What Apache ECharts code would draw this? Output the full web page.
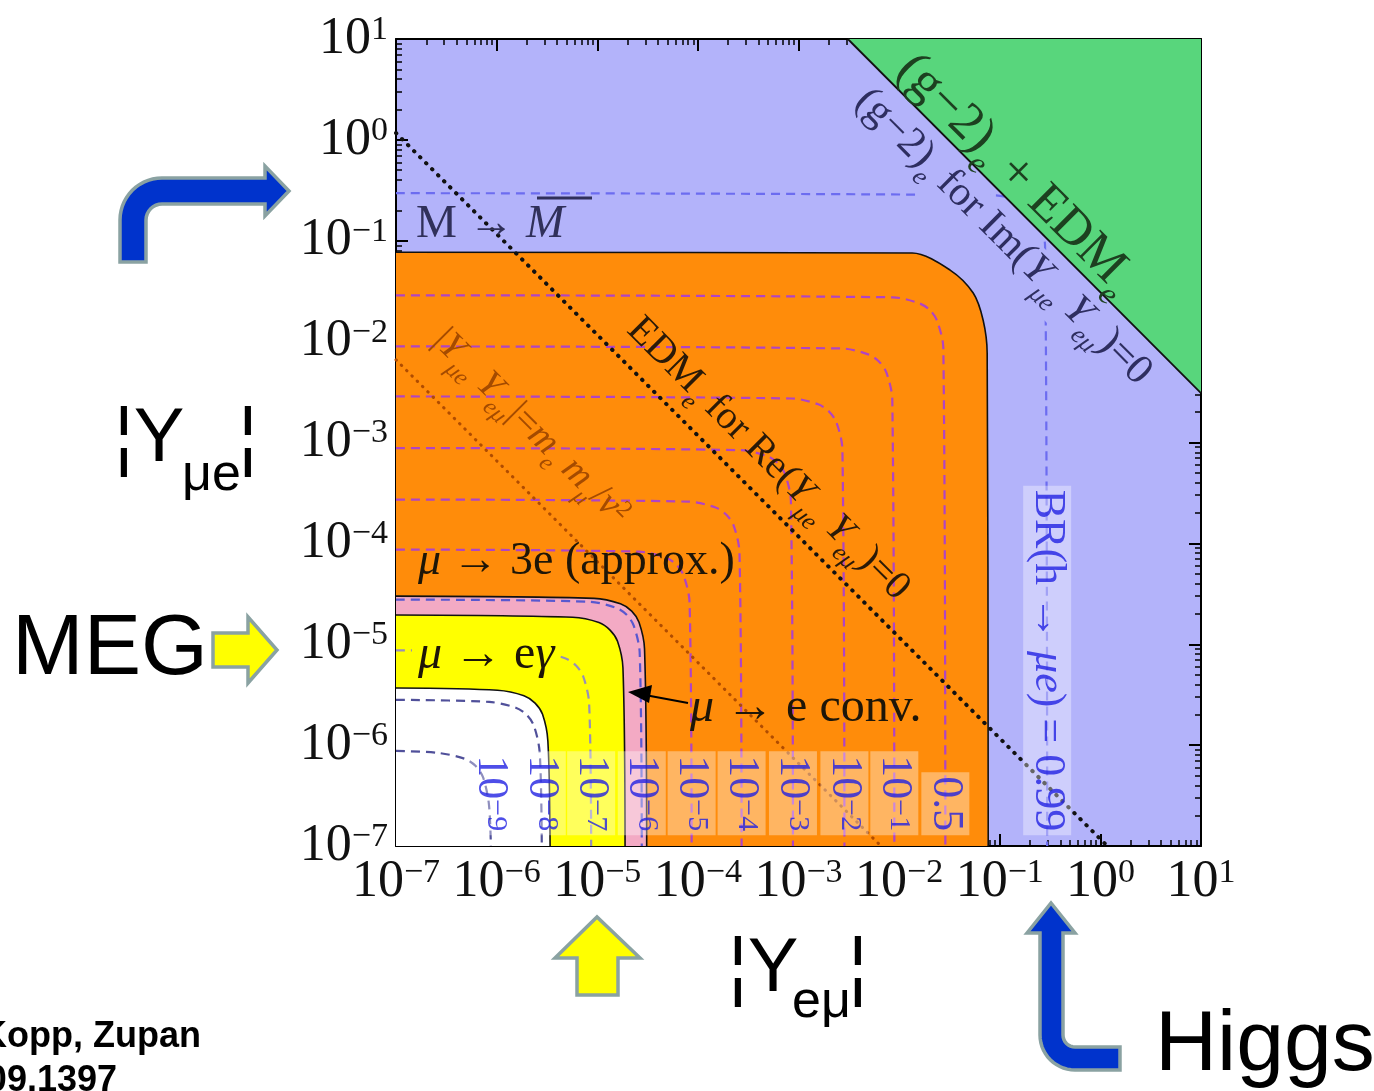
<!DOCTYPE html>
<html>
<head>
<meta charset="utf-8">
<title>Constraints on |Y_eμ|, |Y_μe|</title>
<script src="https://cdn.jsdelivr.net/npm/echarts@6.0.0/dist/echarts.min.js"></script>
<style>
html,body{margin:0;padding:0;background:#ffffff;}
#chart{width:1374px;height:1091px;}
</style>
</head>
<body>
<div id="chart"></div>
<script>
// ===== values (x = |Y_eμ|, y = |Y_μe|) =====
const tickExponents = ['−7','−6','−5','−4','−3','−2','−1','0','1'];

// excluded-region boundaries
const orangeEdge = [[1e-7,0.0768],[0.0135,0.0755],[0.0321,0.0512],[0.0545,0.0303],[0.0684,0.0163],[0.075,0.0077],[0.0768,1e-7]];
const pinkEdge   = [[1e-7,3.0e-5],[9.3e-6,2.85e-5],[1.7e-5,2.52e-5],[2.2e-5,2.13e-5],[2.6e-5,1.65e-5],[2.95e-5,9e-6],[3.1e-5,1e-7]];
const yellowEdge = [[1e-7,1.95e-5],[5.7e-6,1.85e-5],[1.04e-5,1.64e-5],[1.34e-5,1.38e-5],[1.59e-5,1.07e-5],[1.8e-5,5.85e-6],[1.89e-5,1e-7]];
const whiteEdge  = [[1e-7,3.68e-6],[1.02e-6,3.5e-6],[1.87e-6,3.09e-6],[2.41e-6,2.61e-6],[2.86e-6,2.02e-6],[3.23e-6,1.1e-6],[3.4e-6,1e-7]];
const greenEdge  = [[0.00309,10],[10,0.00309]];

// diagonal lines
const edmReLine = [[1e-7,1.17],[1.17,1e-7]];
const massLine  = [[1e-7,0.0066],[0.0066,1e-7]];

// BR(h -> μe) contours
const br1e9 = [[1e-7,8.77e-7],[2.63e-7,8.37e-7],[4.82e-7,7.32e-7],[6.2e-7,6.2e-7],[7.32e-7,4.82e-7],[8.37e-7,2.63e-7],[8.77e-7,1e-7]];
const br1e8 = [[1e-7,2.81e-6],[8.43e-7,2.68e-6],[1.55e-6,2.35e-6],[1.99e-6,1.99e-6],[2.35e-6,1.55e-6],[2.68e-6,8.43e-7],[2.81e-6,1e-7]];
const br1e7 = [[1e-7,8.7e-6],[2.61e-6,8.3e-6],[4.79e-6,7.26e-6],[6.15e-6,6.15e-6],[7.26e-6,4.79e-6],[8.3e-6,2.61e-6],[8.7e-6,1e-7]];
const br1e6 = [[1e-7,2.77e-5],[8.31e-6,2.64e-5],[1.52e-5,2.31e-5],[1.96e-5,1.96e-5],[2.31e-5,1.52e-5],[2.64e-5,8.31e-6],[2.77e-5,1e-7]];
const br1e5 = [[1e-7,8.67e-5],[2.6e-5,8.27e-5],[4.77e-5,7.24e-5],[6.13e-5,6.13e-5],[7.24e-5,4.77e-5],[8.27e-5,2.6e-5],[8.67e-5,1e-7]];
const br1e4 = [[1e-7,2.72e-4],[8.16e-5,2.59e-4],[1.5e-4,2.27e-4],[1.92e-4,1.92e-4],[2.27e-4,1.5e-4],[2.59e-4,8.16e-5],[2.72e-4,1e-7]];
const br1e3 = [[1e-7,8.81e-4],[2.64e-4,8.4e-4],[4.85e-4,7.36e-4],[6.23e-4,6.23e-4],[7.36e-4,4.85e-4],[8.4e-4,2.64e-4],[8.81e-4,1e-7]];
const br1e2 = [[1e-7,0.00286],[8.58e-4,0.00273],[0.00157,0.00239],[0.00202,0.00202],[0.00239,0.00157],[0.00273,8.58e-4],[0.00286,1e-7]];
const br1e1 = [[1e-7,0.00896],[0.00269,0.00855],[0.00493,0.00748],[0.00633,0.00633],[0.00748,0.00493],[0.00855,0.00269],[0.00896,1e-7]];
const br05  = [[1e-7,0.0288],[0.00864,0.0275],[0.0158,0.024],[0.0204,0.0204],[0.024,0.0158],[0.0275,0.00864],[0.0288,1e-7]];
const br099 = [[1e-7,0.296],[0.0888,0.282],[0.163,0.247],[0.209,0.209],[0.247,0.163],[0.282,0.0888],[0.296,1e-7]];
const brContours = [br1e9, br1e8, br1e7, br1e6, br1e5, br1e4, br1e3, br1e2, br1e1, br05, br099];
const brLevels = ['−9','−8','−7','−6','−5','−4','−3','−2','−1','0.5','0.99'];

// ===== styling =====
const SERIF = 'Liberation Serif';
const brColors = ['#50509a','#50509a','#9890b8','#5858d0','#b044c4','#b044c4','#b044c4','#b044c4','#b044c4','#b044c4','#6c6cf0'];
const regionFills = ['#ff8c0a','#f3aac4','#ffff00','#ffffff'];
const regionEdges = [orangeEdge, pinkEdge, yellowEdge, whiteEdge];
const labelAnchorY = 1.28e-7;

const minorTicks = [];
for (let e = -7; e < 1; e++) for (let k = 2; k <= 9; k++) minorTicks.push(k * Math.pow(10, e));

function decadeLabel(v) {
  const i = Math.round(Math.log10(v)) + 7;
  return '{b|10}{s|' + tickExponents[i] + '}';
}
const axisRich = {
  b: {fontFamily: SERIF, fontSize: 52, lineHeight: 52, verticalAlign: 'bottom', color: '#111'},
  s: {fontFamily: SERIF, fontSize: 34, lineHeight: 22, verticalAlign: 'top', color: '#111'}
};
function mainAxis(pos, showLabel, margin) {
  return {
    type: 'log', logBase: 10, min: 1e-7, max: 10, position: pos,
    axisLine: {show: true, onZero: false, lineStyle: {color: '#000', width: 2}},
    axisTick: {show: true, inside: true, length: 12, lineStyle: {color: '#000', width: 2}},
    axisLabel: {show: showLabel, margin: margin, formatter: decadeLabel, rich: axisRich},
    splitLine: {show: false}
  };
}
function minorAxis(pos) {
  return {
    type: 'log', logBase: 10, min: 1e-7, max: 10, position: pos,
    axisLine: {show: false, onZero: false},
    axisTick: {show: true, inside: true, length: 6, customValues: minorTicks, lineStyle: {color: '#000', width: 1.5}},
    axisLabel: {show: false},
    splitLine: {show: false}
  };
}

const series = [];
regionEdges.forEach((d, i) => {
  series.push({
    type: 'line', data: d, smooth: 0.3, symbol: 'none', silent: true, z: 2 + i,
    lineStyle: {color: '#111', width: 1.6},
    areaStyle: {color: regionFills[i], opacity: 1, origin: 'start'}
  });
});
brContours.forEach((d, i) => {
  series.push({
    type: 'line', data: d, smooth: 0.3, symbol: 'none', silent: true, z: 8,
    lineStyle: {color: brColors[i], width: 2.2, type: [9, 6]}
  });
});
series.push({
  type: 'line', data: massLine, symbol: 'none', silent: true, z: 9,
  lineStyle: {color: '#b04c00', width: 3, type: [0.5, 7], cap: 'round'}
});
series.push({
  type: 'line', data: edmReLine, symbol: 'none', silent: true, z: 9,
  lineStyle: {color: '#111', width: 4, type: [0.5, 8], cap: 'round'}
});
series.push({
  type: 'line', data: greenEdge, symbol: 'none', silent: true, z: 10,
  lineStyle: {color: '#111', width: 1.8},
  areaStyle: {color: '#58d67c', opacity: 1, origin: 'end'}
});
series.push({
  type: 'scatter', symbolSize: 0, silent: true, z: 12,
  data: brContours.map((c, i) => ({value: [c[c.length - 1][0], labelAnchorY], name: brLevels[i]})),
  label: {
    show: true, position: 'inside', rotate: -90, align: 'right', verticalAlign: 'middle',
    backgroundColor: 'rgba(255,255,255,0.45)', padding: [4, 4, 2, 4],
    formatter: p => {
      const t = p.name;
      if (t === '0.99') return '{b|BR(h → }{i|μe}{b|) = 0.99}';
      if (t === '0.5') return '{b|0.5}';
      return '{b|10}{s|' + t + '}';
    },
    rich: {
      b: {fontFamily: SERIF, fontSize: 44, lineHeight: 42, verticalAlign: 'bottom', color: '#2222e2'},
      i: {fontFamily: SERIF, fontSize: 44, lineHeight: 42, verticalAlign: 'bottom', fontStyle: 'italic', color: '#2222e2'},
      s: {fontFamily: SERIF, fontSize: 30, lineHeight: 20, verticalAlign: 'top', color: '#2222e2'}
    }
  }
});

// ===== annotations =====
function richSet(F, color) {
  return {
    n: {fontFamily: SERIF, fontSize: F, lineHeight: F, verticalAlign: 'top', fill: color},
    i: {fontFamily: SERIF, fontSize: F, lineHeight: F, verticalAlign: 'top', fontStyle: 'italic', fill: color},
    s: {fontFamily: SERIF, fontSize: Math.round(F * 0.62), lineHeight: Math.round(F * 1.22), verticalAlign: 'bottom', fontStyle: 'italic', fill: color},
    p: {fontFamily: SERIF, fontSize: Math.round(F * 0.62), lineHeight: Math.round(F * 0.3), verticalAlign: 'top', fill: color}
  };
}
function rtext(x, y, rot, text, F, color, extra) {
  return {
    type: 'text', x: x, y: y, rotation: rot, z: 100,
    style: Object.assign({text: text, rich: richSet(F, color), align: 'center', verticalAlign: 'middle'}, extra || {})
  };
}
function arcPts(cx, cy, r, a0, a1, n) {
  const p = [];
  for (let k = 0; k <= n; k++) {
    const a = (a0 + (a1 - a0) * k / n) * Math.PI / 180;
    p.push([cx + r * Math.cos(a), cy + r * Math.sin(a)]);
  }
  return p;
}
const D45 = -Math.PI / 4;
const arrowStroke = '#8aa2a2';
const blueArrowTop = [[120, 262], ...arcPts(162, 220, 42, 180, 270, 14), [265, 178], [265, 166], [289, 191], [265, 216], [265, 204], ...arcPts(162, 220, 16, 270, 180, 8), [146, 262]];
const blueArrowBottom = [[1027, 933], [1051, 903], [1075, 933], [1063, 933], ...arcPts(1075, 1035, 12, 180, 90, 8), [1120, 1047], [1120, 1070], ...arcPts(1075, 1035, 35, 90, 180, 14), [1040, 933]];

const graphic = [
  // in-plot labels
  {type: 'text', x: 416, y: 225, z: 100, style: {text: '{n|M → }{i|M}', rich: richSet(46, '#30305a'), align: 'left', verticalAlign: 'middle'}},
  {type: 'line', z: 100, shape: {x1: 537, y1: 198, x2: 592, y2: 198}, style: {stroke: '#30305a', lineWidth: 3}},
  {type: 'text', x: 418, y: 562, z: 100, style: {text: '{i|μ}{n| → 3e (approx.)}', rich: richSet(46, '#1e1608'), align: 'left', verticalAlign: 'middle'}},
  {type: 'text', x: 412, y: 655, z: 100, style: {text: '{i|μ}{n| → e}{i|γ}', rich: richSet(48, '#1e1608'), align: 'left', verticalAlign: 'middle', backgroundColor: '#ffff00', padding: [0, 6, 0, 6]}},
  {type: 'text', x: 690, y: 708, z: 100, style: {text: '{i|μ}{n| → e conv.}', rich: richSet(48, '#1e1608'), align: 'left', verticalAlign: 'middle'}},
  {type: 'line', z: 100, shape: {x1: 688, y1: 703, x2: 645, y2: 695}, style: {stroke: '#000', lineWidth: 2}},
  {type: 'polygon', z: 100, shape: {points: [[628, 692], [652, 685], [649, 703]]}, style: {fill: '#000'}},
  rtext(765, 462, D45, '{n|EDM}{s|e}{n| for Re(}{i|Y}{s|μe}{n| }{i|Y}{s|eμ}{n|)=0}', 40, '#2a1a08'),
  rtext(528, 430, D45, '{n||}{i|Y}{s|μe}{n| }{i|Y}{s|eμ}{n||=}{i|m}{s|e}{n| }{i|m}{s|μ}{n|/}{i|v}{p|2}', 38, '#a54b00'),
  rtext(1000, 240, D45, '{n|(g−2)}{s|e}{n| for Im(}{i|Y}{s|μe}{n| }{i|Y}{s|eμ}{n|)=0}', 42, '#2e2e60', {backgroundColor: '#b3b3fa', padding: [0, 4, 0, 4]}),
  rtext(1012, 178, D45, '{n|(g−2)}{s|e}{n| + EDM}{s|e}', 52, '#1d4020'),
  // outside annotations
  {type: 'polygon', z: 100, shape: {points: blueArrowTop}, style: {fill: '#0033cc', stroke: arrowStroke, lineWidth: 3.5}},
  {type: 'polygon', z: 100, shape: {points: blueArrowBottom}, style: {fill: '#0033cc', stroke: arrowStroke, lineWidth: 3.5}},
  {type: 'polygon', z: 100, shape: {points: [[213, 633], [248, 633], [248, 617], [277, 650], [248, 683], [248, 667], [213, 667]]}, style: {fill: '#ffff00', stroke: arrowStroke, lineWidth: 3.5}},
  {type: 'polygon', z: 100, shape: {points: [[577, 995], [577, 958], [555, 958], [597, 917], [640, 958], [618, 958], [618, 995]]}, style: {fill: '#ffff00', stroke: arrowStroke, lineWidth: 3.5}},
  {type: 'text', x: 12, y: 650, z: 100, style: {text: 'MEG', font: '86px "Liberation Sans"', fill: '#000', align: 'left', verticalAlign: 'middle'}},
  {type: 'text', x: 114, y: 440, z: 100, style: {text: '¦Y', font: '76px "Liberation Sans"', fill: '#000', align: 'left', verticalAlign: 'middle'}},
  {type: 'text', x: 182, y: 476, z: 100, style: {text: 'μe', font: '52px "Liberation Sans"', fill: '#000', align: 'left', verticalAlign: 'middle'}},
  {type: 'text', x: 238, y: 440, z: 100, style: {text: '¦', font: '76px "Liberation Sans"', fill: '#000', align: 'left', verticalAlign: 'middle'}},
  {type: 'text', x: 728, y: 970, z: 100, style: {text: '¦Y', font: '76px "Liberation Sans"', fill: '#000', align: 'left', verticalAlign: 'middle'}},
  {type: 'text', x: 792, y: 1003, z: 100, style: {text: 'eμ', font: '52px "Liberation Sans"', fill: '#000', align: 'left', verticalAlign: 'middle'}},
  {type: 'text', x: 848, y: 970, z: 100, style: {text: '¦', font: '76px "Liberation Sans"', fill: '#000', align: 'left', verticalAlign: 'middle'}},
  {type: 'text', x: 1155, y: 1046, z: 100, style: {text: 'Higgs', font: '86px "Liberation Sans"', fill: '#000', align: 'left', verticalAlign: 'middle'}},
  {type: 'text', x: 201, y: 1037, z: 100, style: {text: 'Harnik, Kopp, Zupan', font: 'bold 36px "Liberation Sans"', fill: '#000', align: 'right', verticalAlign: 'middle'}},
  {type: 'text', x: 117, y: 1081, z: 100, style: {text: '0909.1397', font: 'bold 36px "Liberation Sans"', fill: '#000', align: 'right', verticalAlign: 'middle'}}
];

const chart = echarts.init(document.getElementById('chart'), null, {renderer: 'canvas'});
chart.setOption({
  animation: false,
  backgroundColor: '#ffffff',
  grid: {left: 396, top: 39, width: 805, height: 807, show: true, backgroundColor: '#b3b3fa', borderWidth: 0},
  xAxis: [mainAxis('bottom', true, 10), mainAxis('top', false, 8), minorAxis('bottom'), minorAxis('top')],
  yAxis: [mainAxis('left', true, 8), mainAxis('right', false, 8), minorAxis('left'), minorAxis('right')],
  series: series,
  graphic: graphic
});
</script>
</body>
</html>
